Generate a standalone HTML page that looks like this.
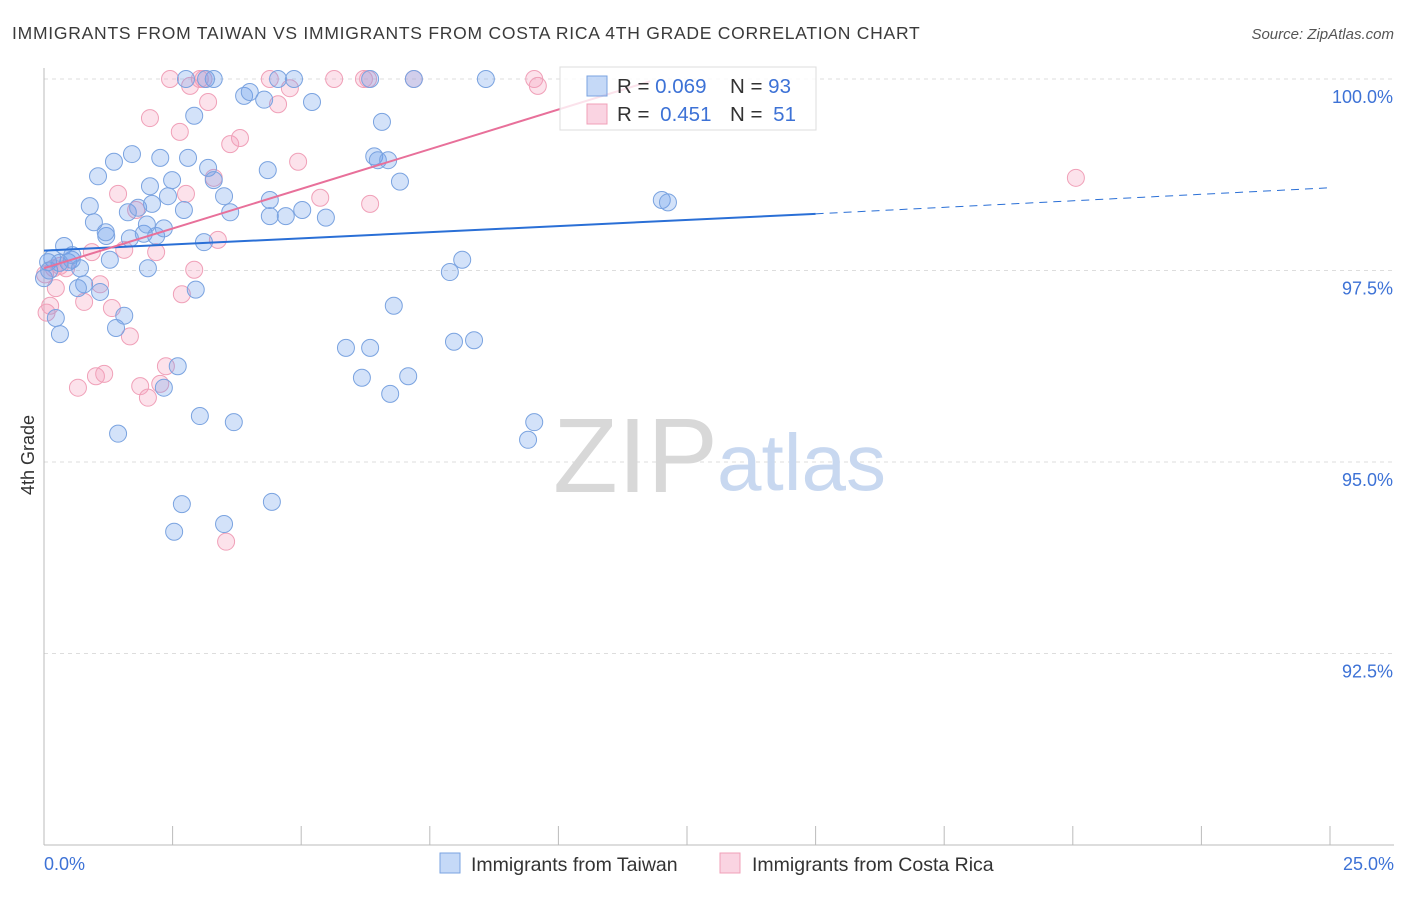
<!DOCTYPE html>
<html><head><meta charset="utf-8"><style>
body{margin:0;background:#fff;font-family:"Liberation Sans",sans-serif}
svg text{font-family:"Liberation Sans",sans-serif}
</style></head><body>
<svg id="chart" width="1406" height="892" xmlns="http://www.w3.org/2000/svg">
<text x="12" y="39" font-size="17.5" letter-spacing="0.75" fill="#3a3a3a">IMMIGRANTS FROM TAIWAN VS IMMIGRANTS FROM COSTA RICA 4TH GRADE CORRELATION CHART</text>
<text x="1394" y="39" font-size="15" fill="#555" font-style="italic" text-anchor="end">Source: ZipAtlas.com</text>
<g id="grid"></g>
<g id="wm">
<text x="553" y="492" font-size="106" fill="#d8d8d8" font-family="Liberation Serif">ZIP</text>
<text x="717" y="490" font-size="80" fill="#c8d8f0">atlas</text>
</g>
<text transform="translate(34,455) rotate(-90)" font-size="18" fill="#333" text-anchor="middle">4th Grade</text>
<g id="pts"></g>
<g id="lines"></g>
<g>
<rect x="560" y="67" width="256" height="63" fill="rgba(255,255,255,0.8)" stroke="#ddd"/>
<rect x="587" y="76" width="20" height="20" fill="rgba(110,160,235,0.4)" stroke="#7aa3e0"/>
<rect x="587" y="104" width="20" height="20" fill="rgba(245,160,190,0.45)" stroke="#f0a0b8"/>
<text x="617" y="93" font-size="20.5" fill="#333">R = <tspan fill="#3d72d6">0.069</tspan></text>
<text x="730" y="93" font-size="20.5" fill="#333">N = <tspan fill="#3d72d6">93</tspan></text>
<text x="617" y="121" font-size="20.5" fill="#333">R = <tspan fill="#3d72d6" dx="5">0.451</tspan></text>
<text x="730" y="121" font-size="20.5" fill="#333">N = <tspan fill="#3d72d6" dx="5">51</tspan></text>
</g>
<g>
<rect x="440" y="853" width="20" height="20" fill="rgba(110,160,235,0.4)" stroke="#7aa3e0"/>
<text x="471" y="871" font-size="19.5" fill="#333">Immigrants from Taiwan</text>
<rect x="720" y="853" width="20" height="20" fill="rgba(245,160,190,0.45)" stroke="#f0a0b8"/>
<text x="752" y="871" font-size="19.5" fill="#333">Immigrants from Costa Rica</text>
</g>
</svg>
<script>
const blueX=[0.16,0.23,0.31,0.39,0.47,0.54,0.70,0.78,0.66,0.97,0.89,1.05,1.09,1.21,1.28,1.36,1.40,1.56,1.63,1.71,1.83,1.94,2.02,2.06,2.10,2.18,2.26,2.33,2.41,2.49,2.72,2.80,2.92,2.95,3.11,3.19,3.30,3.50,3.62,3.89,4.00,4.28,4.35,4.39,4.70,5.02,5.21,5.48,5.87,6.18,6.34,6.42,6.49,6.57,6.69,6.73,6.80,6.92,7.08,7.89,7.97,8.13,8.36,9.41,9.53,12.01,12.13,8.59,7.19,6.34,4.86,4.55,3.30,3.15,1.44,2.53,2.68,2.33,2.60,3.03,3.50,3.69,4.43,0.08,0.0,1.67,4.39,2.76,0.10,0.55,1.20,2.00,0.30];
const blueY=[97.66,96.88,96.67,97.82,97.61,97.64,97.53,97.32,97.27,98.13,98.34,98.73,97.22,97.95,97.64,98.92,96.75,96.91,98.26,99.02,98.32,97.98,97.53,98.60,98.37,97.95,98.97,98.05,98.47,98.68,98.29,98.97,99.52,97.25,97.87,98.84,98.68,98.47,98.26,99.78,99.83,99.73,98.81,98.21,98.21,98.29,99.70,98.19,96.49,96.10,96.49,98.99,98.94,99.44,98.94,95.89,97.04,98.66,96.12,97.48,96.57,97.64,96.59,95.29,95.52,98.42,98.39,100,100,100,100,100,100,100,95.37,94.09,94.45,95.97,96.25,95.60,94.19,95.52,94.48,97.61,97.40,97.92,98.42,100,97.50,97.70,98.00,98.10,97.60];
const pinkX=[0.12,0.19,0.31,0.43,0.66,0.78,0.93,1.01,1.09,1.17,1.32,1.44,1.56,1.67,1.79,1.87,2.02,2.06,2.18,2.26,2.37,2.45,2.64,2.68,2.76,2.84,2.92,3.03,3.19,3.30,3.38,3.54,3.62,3.81,4.39,4.55,4.78,4.94,5.37,5.64,6.22,6.30,6.34,7.19,9.53,9.60,20.06,0.23,0.05,0.02,3.10];
const pinkY=[97.04,97.53,97.56,97.53,95.97,97.09,97.74,96.12,97.32,96.15,97.01,98.50,97.77,96.64,98.29,95.99,95.84,99.49,97.74,96.02,96.25,100,99.31,97.19,98.50,99.91,97.51,100,99.70,98.71,97.90,93.96,99.15,99.23,100,99.67,99.88,98.92,98.45,100,100,100,98.37,100,100,99.91,98.71,97.27,96.95,97.45,100];
const xTicks=[0,2.5,5,7.5,10,12.5,15,17.5,20,22.5,25];
const yTicks=[100,97.5,95,92.5];
const yTickLabels=["100.0%","97.5%","95.0%","92.5%"];
const blueLine={x0:0,y0:97.76,x1:15,y1:98.24,x2:25,y2:98.58};
const pinkLine={x0:0,y0:97.53,x1:11.78,y1:99.97};
const NS="http://www.w3.org/2000/svg";
const X=v=>44+v*51.44;
const Y=v=>79+(100-v)*76.6;
function mk(tag,attrs,parent){const e=document.createElementNS(NS,tag);for(const k in attrs)e.setAttribute(k,attrs[k]);parent.appendChild(e);return e;}
const grid=document.getElementById('grid');
yTicks.forEach((t,i)=>{
 const l=mk('line',{x1:44,x2:1394,y1:Y(t),y2:Y(t),stroke:'#ddd','stroke-dasharray':'4,4'},grid);
 
 
 const tx=mk('text',{x:1393,y:Y(t)+24,'font-size':18,fill:'#3d72d6','text-anchor':'end'},grid);
 tx.textContent=yTickLabels[i];
 
 
});
const ax=mk('line',{x1:44,x2:44,y1:68,y2:845,stroke:'#bbb'},grid);


const bx=mk('line',{x1:44,x2:1394,y1:845,y2:845,stroke:'#bbb'},grid);


xTicks.forEach(t=>{
 const l=mk('line',{x1:X(t),x2:X(t),y1:826,y2:845,stroke:'#bbb'},grid);
 
 
});
const xl0=mk('text',{x:44,y:870,'font-size':18,fill:'#3d72d6'},grid);xl0.textContent=xTicks[0].toFixed(1)+'%';


const xl1=mk('text',{x:1394,y:870,'font-size':18,fill:'#3d72d6','text-anchor':'end'},grid);xl1.textContent=xTicks[xTicks.length-1].toFixed(1)+'%';


const pts=document.getElementById('pts');
pinkX.forEach((v,i)=>{
 const c=mk('circle',{cx:X(v),cy:Y(pinkY[i]),r:8.5,fill:'rgba(245,160,190,0.3)',stroke:'#f0a0b8','stroke-width':1},pts);
 
 
});
blueX.forEach((v,i)=>{
 const c=mk('circle',{cx:X(v),cy:Y(blueY[i]),r:8.5,fill:'rgba(110,160,235,0.3)',stroke:'#7aa3e0','stroke-width':1},pts);
 
 
});
const lines=document.getElementById('lines');
const b1=mk('line',{x1:X(blueLine.x0),y1:Y(blueLine.y0),x2:X(blueLine.x1),y2:Y(blueLine.y1),stroke:'#2a6fd6','stroke-width':2},lines);


const b2=mk('line',{x1:X(blueLine.x1),y1:Y(blueLine.y1),x2:X(blueLine.x2),y2:Y(blueLine.y2),stroke:'#2a6fd6','stroke-width':1,'stroke-dasharray':'8,6'},lines);


const p1=mk('line',{x1:X(pinkLine.x0),y1:Y(pinkLine.y0),x2:X(pinkLine.x1),y2:Y(pinkLine.y1),stroke:'#e8709a','stroke-width':2},lines);


</script>
</body></html>
